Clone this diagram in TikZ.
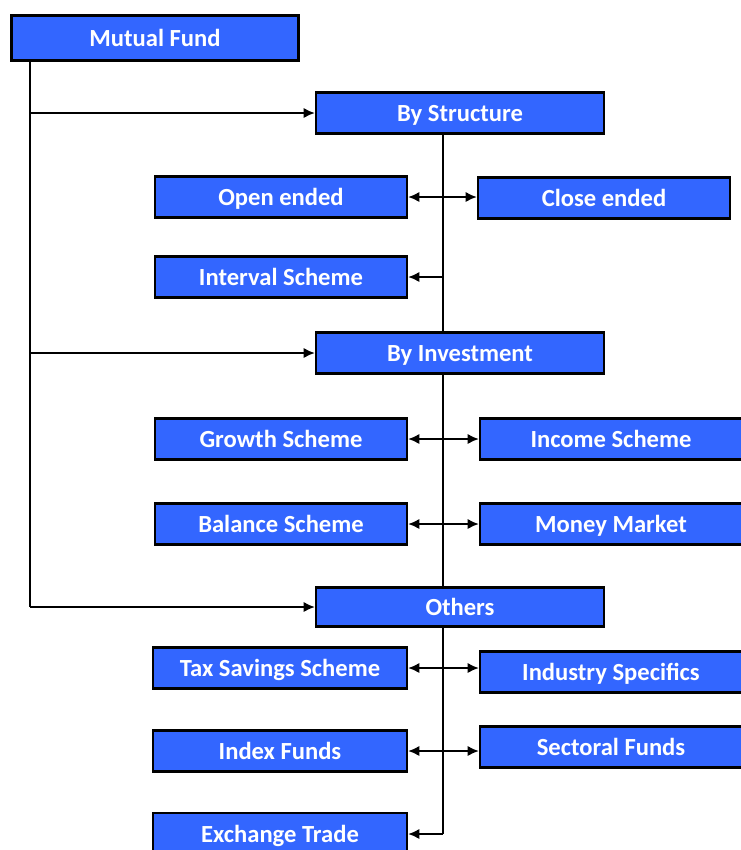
\documentclass[tikz,border=0pt]{standalone}
\usepackage{fontspec}
\setmainfont{Carlito}
\usepackage{tikz}
\usetikzlibrary{arrows.meta}

\definecolor{fundblue}{RGB}{51,102,255}

\tikzset{
  box/.style={draw=black, line width=1.2pt, fill=fundblue, text=white,
    font=\bfseries\fontsize{14}{16}\selectfont, minimum height=0.82cm, inner sep=0pt,
    text height=10pt, text depth=0pt},
  link/.style={line width=1.3pt},
  tip/.style={-{Latex[length=6.5pt,width=6pt]}}
}

\begin{document}
\begin{tikzpicture}[x=0.02cm, y=-0.02cm]

\useasboundingbox (0,0) rectangle (741,850);

% Boîte principale
\node[box, minimum width=5.74cm, minimum height=0.9cm] (mf) at (155,38) {Mutual Fund};

% Trois catégories
\node[box, minimum width=5.76cm] (bs) at (460,113) {By Structure};
\node[box, minimum width=5.76cm] (bi) at (460,353) {By Investment};
\node[box, minimum width=5.76cm, minimum height=0.78cm] (ot) at (460,607) {Others};

% By Structure
\node[box, minimum width=5.04cm] (oe) at (281,197) {Open ended};
\node[box, minimum width=5.04cm] (ce) at (604,198) {Close ended};
\node[box, minimum width=5.04cm] (is) at (281,277) {Interval Scheme};

% By Investment
\node[box, minimum width=5.04cm] (gs) at (281,439) {Growth Scheme};
\node[box, minimum width=5.24cm] (ic) at (611,439) {Income Scheme};
\node[box, minimum width=5.04cm] (bl) at (281,524) {Balance Scheme};
\node[box, minimum width=5.24cm] (mm) at (611,524) {Money Market};

% Others
\node[box, minimum width=5.08cm] (ts) at (280,668) {Tax Savings Scheme};
\node[box, minimum width=5.24cm] (in) at (611,672) {Industry Specifics};
\node[box, minimum width=5.08cm] (ix) at (280,751) {Index Funds};
\node[box, minimum width=5.24cm] (sf) at (611,747) {Sectoral Funds};
\node[box, minimum width=5.08cm, minimum height=0.84cm] (et) at (280,834) {Exchange Trade};

% Lignes de référence
\coordinate (spine) at (30,0);
\coordinate (trunk) at (443,0);

% Ligne verticale à gauche
\draw[link] (mf.south -| spine) |- (ot.west -| spine);
\draw[link, tip] (bs.west -| spine) -- (bs.west);
\draw[link, tip] (bi.west -| spine) -- (bi.west);
\draw[link, tip] (ot.west -| spine) -- (ot.west);

% Tronc central
\draw[link] (bs.south -| trunk) -- (bi.north -| trunk);
\draw[link] (bi.south -| trunk) -- (ot.north -| trunk);
\draw[link] (ot.south -| trunk) -- (et.east -| trunk);

% Flèches doubles
\draw[link, tip] (oe.east -| trunk) -- (oe.east);
\draw[link, tip] (oe.east -| trunk) -- (ce.west |- oe.east);
\draw[link, tip] (is.east -| trunk) -- (is.east);
\draw[link, tip] (gs.east -| trunk) -- (gs.east);
\draw[link, tip] (gs.east -| trunk) -- (ic.west);
\draw[link, tip] (bl.east -| trunk) -- (bl.east);
\draw[link, tip] (bl.east -| trunk) -- (mm.west);
\draw[link, tip] (ts.east -| trunk) -- (ts.east);
\draw[link, tip] (ts.east -| trunk) -- (in.west |- ts.east);
\draw[link, tip] (ix.east -| trunk) -- (ix.east);
\draw[link, tip] (ix.east -| trunk) -- (sf.west |- ix.east);
\draw[link, tip] (et.east -| trunk) -- (et.east);

\end{tikzpicture}
\end{document}
